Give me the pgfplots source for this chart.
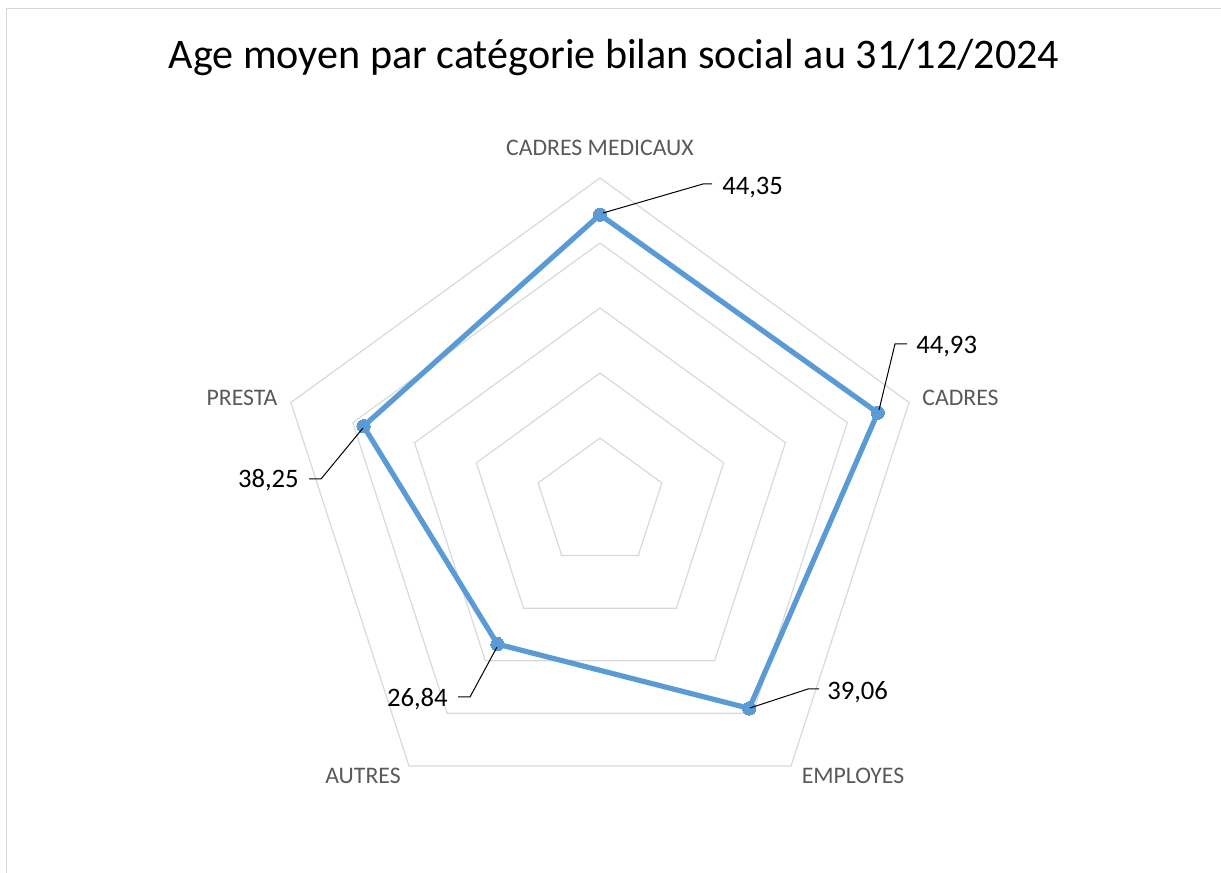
\documentclass[border=0pt]{standalone}
\usepackage{fontspec}
\setmainfont{Carlito}
\usepackage{pgfplots}
\pgfplotsset{compat=1.18}
\usepgfplotslibrary{polar}
\definecolor{serie}{HTML}{5B9BD5}
\definecolor{gridc}{HTML}{D9D9D9}
\definecolor{labc}{HTML}{595959}
\begin{document}
\begin{tikzpicture}
\begin{polaraxis}[hide axis, ymin=0, ymax=50, xmin=0, xmax=360,
  scale only axis, width=487.5pt, height=487.5pt, clip=false, name=ax]
\addplot[gridc, line width=0.9pt] coordinates {(90,10)(18,10)(306,10)(234,10)(162,10)(90,10)};
\addplot[gridc, line width=0.9pt] coordinates {(90,20)(18,20)(306,20)(234,20)(162,20)(90,20)};
\addplot[gridc, line width=0.9pt] coordinates {(90,30)(18,30)(306,30)(234,30)(162,30)(90,30)};
\addplot[gridc, line width=0.9pt] coordinates {(90,40)(18,40)(306,40)(234,40)(162,40)(90,40)};
\addplot[gridc, line width=0.9pt] coordinates {(90,50)(18,50)(306,50)(234,50)(162,50)(90,50)};
\addplot[serie, line width=3.9pt, line join=round, mark=*, mark size=5pt,
  mark options={fill=serie, draw=serie, line width=0pt}]
  coordinates {(90,44.35)(18,44.93)(306,39.06)(234,26.84)(162,38.25)(90,44.35)};
\coordinate (C) at (axis cs:0,0);
\end{polaraxis}
\begin{scope}[shift={(C)}, x=0.75pt, y=-0.75pt]
\draw[gridc, line width=1pt] (-593.5,380) -- (-593.5,-494.5) -- (630,-494.5);
\node[anchor=base, inner sep=0pt, font=\fontsize{31.6}{38}\selectfont] at (14,-434.7) {Age moyen par catégorie bilan social au 31/12/2024};
\begin{scope}[every node/.style={inner sep=0pt, text=labc, font=\fontsize{17.8}{21}\selectfont}]
\node[anchor=base] at (0,-347) {CADRES MEDICAUX};
\node[anchor=base] at (360.5,-97) {CADRES};
\node[anchor=base] at (-358,-97) {PRESTA};
\node[anchor=base] at (-237,281) {AUTRES};
\node[anchor=base] at (253,281) {EMPLOYES};
\end{scope}
\begin{scope}[every node/.style={inner sep=0pt, text=black, font=\fontsize{20}{24}\selectfont}]
\node[anchor=base west] at (122,-308) {44,35};
\node[anchor=base west] at (316,-149) {44,93};
\node[anchor=base east] at (-301,-15) {38,25};
\node[anchor=base east] at (-152,204) {26,84};
\node[anchor=base west] at (227,197) {39,06};
\end{scope}
\draw[black, line width=0.75pt] (3,-290) -- (103,-319) -- (112,-319);
\draw[black, line width=0.75pt] (279,-93) -- (295,-159) -- (307,-159);
\draw[black, line width=0.75pt] (-237,-75) -- (-279,-24) -- (-291,-24);
\draw[black, line width=0.75pt] (-103,144) -- (-130,194) -- (-142,194);
\draw[black, line width=0.75pt] (150,205) -- (208,186) -- (219,186);
\pgfresetboundingbox
\path[use as bounding box] (-600,-503) rectangle (621,370);
\end{scope}
\end{tikzpicture}
\end{document}
